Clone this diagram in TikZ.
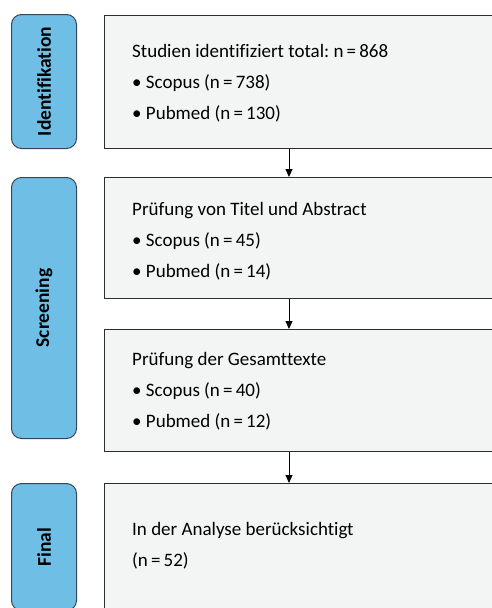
\documentclass[tikz,border=0pt]{standalone}
\usepackage{fontspec}
\setmainfont{Carlito}[Ligatures=NoCommon]
\usetikzlibrary{arrows.meta}
\definecolor{phaseblue}{RGB}{110,190,230}
\definecolor{phaseline}{RGB}{55,70,85}
\definecolor{stagefill}{RGB}{243,244,244}
\definecolor{stageline}{RGB}{45,45,45}
\tikzset{
  phase/.style= {draw=phaseline, fill=phaseblue, line width=1pt, rounded corners=10pt,
    anchor=north west, minimum width=65pt, inner sep=0},
  phasetext/.style= {rotate=90, font=\fontsize{19.5}{19.5}\selectfont\bfseries},
  stage/.style= {draw=stageline, fill=stagefill, line width=1.3pt,
    anchor=north west, minimum width=420pt, inner sep=0},
  stagetext/.style= {anchor=north west, inner sep=0, align=left,
    font=\fontsize{19}{31}\selectfont\frenchspacing},
  flow/.style= {-{Triangle[width=7pt,length=8pt]}, line width=1pt},
}

\begin{document}
\begin{tikzpicture}[x=1pt, y=-1pt]
  \useasboundingbox (0,0) rectangle (492,608);
  % phases
  \node [phase, minimum height=134pt] (pid) at (11,14) {};
  \node [phase, minimum height=261pt] (pscr) at (11,177) {};
  \node [phase, minimum height=127pt] (pfin) at (11,483) {};
  \node [phasetext] at (pid) {Identifikation};
  \node [phasetext] at (pscr) {Screening};
  \node [phasetext] at (pfin) {Final};

  % stages
  \node [stage, minimum height=133pt] (s1) at (104,15) {};
  \node [stage, minimum height=121pt] (s2) at (104,177) {};
  \node [stage, minimum height=122pt] (s3) at (104,329) {};
  \node [stage, minimum height=140pt] (s4) at (104,483) {};

  \node [stagetext] (t1) at (132,44) {Studien identifiziert total: n\,=\,868\\
    • Scopus (n\,=\,738)\\ • Pubmed (n\,=\,130)};
  \node [stagetext] (t2) at (132,202) {Prüfung von Titel und Abstract\\
    • Scopus (n\,=\,45)\\ • Pubmed (n\,=\,14)};
  \node [stagetext] (t3) at (132,352) {Prüfung der Gesamttexte\\
    • Scopus (n\,=\,40)\\ • Pubmed (n\,=\,12)};
  \node [stagetext] (t4) at (132,522) {In der Analyse berücksichtigt\\
    (n\,=\,52)};

  % arrows
  \coordinate (ax) at (289,0);
  \draw [flow] (s1.south -| ax) -- (s2.north -| ax);
  \draw [flow] (s2.south -| ax) -- (s3.north -| ax);
  \draw [flow] (s3.south -| ax) -- (s4.north -| ax);
\end{tikzpicture}
\end{document}
